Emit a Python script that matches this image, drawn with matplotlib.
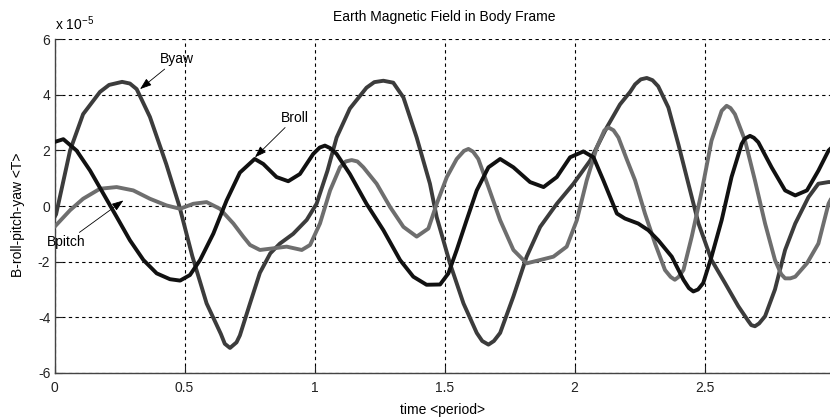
import matplotlib
matplotlib.use("Agg")
import matplotlib.pyplot as plt

plt.rcParams['font.family'] = ['Liberation Sans', 'DejaVu Sans']

# values in units of 1e-5 T
t_yaw = [0.0, 0.006, 0.06, 0.11, 0.175, 0.21, 0.26, 0.29, 0.316, 0.367, 0.43, 0.48, 0.53, 0.585,
         0.64, 0.655, 0.675, 0.70,
         0.713, 0.752, 0.79, 0.83, 0.867, 0.918, 0.97, 1.008, 1.05, 1.085, 1.136, 1.2, 1.23, 1.265,
         1.303, 1.342, 1.393, 1.444, 1.47, 1.521, 1.573, 1.624, 1.645, 1.669, 1.69, 1.714, 1.765,
         1.816, 1.868, 1.932, 1.996, 2.06, 2.124, 2.175, 2.214, 2.233, 2.255, 2.278, 2.3, 2.322,
         2.361, 2.4, 2.438, 2.477, 2.527, 2.579, 2.63, 2.669, 2.68, 2.694, 2.71, 2.733, 2.771,
         2.81, 2.849, 2.9, 2.938, 2.977, 3.0]
b_yaw = [-0.4, -0.3, 2.0, 3.3, 4.1, 4.35, 4.46, 4.4, 4.2, 3.2, 1.5, 0.0, -1.8, -3.5,
         -4.6, -4.95, -5.1, -4.9,
         -4.65, -3.5, -2.4, -1.7, -1.35, -1.0, -0.5, 0.08, 1.27, 2.46, 3.5, 4.25, 4.45, 4.5,
         4.43, 3.9, 2.46, 0.8, -0.4, -2.06, -3.5, -4.56, -4.85, -4.98, -4.85, -4.56, -3.25,
         -1.82, -0.75, 0.08, 0.8, 1.63, 2.82, 3.65, 4.1, 4.37, 4.55, 4.6, 4.52, 4.3,
         3.54, 2.2, 0.8, -0.63, -1.94, -2.77, -3.6, -4.14, -4.28, -4.32, -4.22, -3.96, -3.0,
         -1.58, -0.63, 0.32, 0.8, 0.86, 0.86]

t_roll = [0.0, 0.034, 0.085, 0.137, 0.188, 0.239, 0.29, 0.342, 0.393, 0.444, 0.483, 0.521, 0.56,
          0.611, 0.662, 0.713, 0.77, 0.803, 0.854, 0.899, 0.944, 0.995, 1.02, 1.04, 1.06, 1.085,
          1.136, 1.2, 1.265, 1.329, 1.38, 1.431, 1.483, 1.515, 1.547, 1.585, 1.624, 1.669, 1.714,
          1.765, 1.829, 1.881, 1.932, 1.983, 2.034, 2.073, 2.111, 2.163, 2.194, 2.245, 2.284,
          2.322, 2.374, 2.419, 2.44, 2.457, 2.475, 2.495, 2.527, 2.566, 2.604, 2.643, 2.655,
          2.675, 2.69, 2.707, 2.758, 2.81, 2.849, 2.894, 2.938, 2.977, 3.0]
b_roll = [2.3, 2.4, 1.99, 1.27, 0.44, -0.39, -1.23, -1.94, -2.42, -2.63, -2.68, -2.48, -1.94,
          -0.99, 0.2, 1.2, 1.69, 1.51, 1.04, 0.89, 1.15, 1.87, 2.1, 2.17, 2.08, 1.87,
          1.15, 0.08, -0.87, -1.94, -2.54, -2.83, -2.82, -2.42, -1.58, -0.51, 0.56, 1.39, 1.69,
          1.39, 0.86, 0.68, 1.04, 1.75, 1.96, 1.75, 0.92, -0.27, -0.45, -0.63, -0.87,
          -1.23, -1.82, -2.65, -2.95, -3.07, -3.0, -2.77, -1.82, -0.51, 1.04, 2.23, 2.42,
          2.52, 2.45, 2.29, 1.39, 0.56, 0.38, 0.56, 1.27, 1.99, 2.2]

t_pitch = [0.0, 0.06, 0.11, 0.175, 0.239, 0.303, 0.367, 0.431, 0.483, 0.534, 0.585, 0.636, 0.688,
           0.726, 0.752, 0.79, 0.842, 0.893, 0.951, 0.983, 1.021, 1.06, 1.098, 1.12, 1.143, 1.165,
           1.188, 1.239, 1.291, 1.342, 1.393, 1.438, 1.47, 1.509, 1.547, 1.575, 1.592, 1.61, 1.63,
           1.669, 1.714, 1.765, 1.816, 1.868, 1.919, 1.97, 2.009, 2.047, 2.086, 2.115, 2.131,
           2.15, 2.169, 2.2, 2.233, 2.271, 2.31, 2.348, 2.37, 2.386, 2.40, 2.419, 2.451, 2.49,
           2.527, 2.566, 2.585, 2.60, 2.617, 2.656, 2.694, 2.733, 2.771, 2.795, 2.81, 2.83,
           2.849, 2.894, 2.938, 2.977, 3.0]
b_pitch = [-0.75, -0.15, 0.26, 0.62, 0.68, 0.56, 0.26, 0.02, -0.1, 0.08, 0.14, -0.1, -0.63,
           -1.1, -1.4, -1.58, -1.52, -1.46, -1.58, -1.4, -0.63, 0.56, 1.39, 1.6, 1.65, 1.6,
           1.39, 0.8, -0.04, -0.75, -1.1, -0.81, 0.08, 1.04, 1.69, 1.98, 2.05, 1.95, 1.69,
           0.68, -0.51, -1.58, -2.06, -1.94, -1.82, -1.46, -0.51, 0.92, 2.11, 2.72, 2.82,
           2.72, 2.46, 1.7, 0.92, -0.27, -1.35, -2.3, -2.55, -2.65, -2.55, -2.3, -1.1, 0.56,
           2.35, 3.42, 3.6, 3.52, 3.3, 2.35, 0.92, -0.63, -1.94, -2.45, -2.6, -2.6,
           -2.54, -2.06, -1.35, 0.08, 0.5]

x_ticks = [0, 0.5, 1, 1.5, 2, 2.5, 3]
x_ticklabels = ['0', '0.5', '1', '1.5', '2', '2.5', '3']
y_ticks = [-6, -4, -2, 0, 2, 4, 6]
y_ticklabels = ['-6', '-4', '-2', '0', '2', '4', '6']

W, H = 830, 419
fig = plt.figure(figsize=(W / 100, H / 100), dpi=100)
ax = fig.add_axes([54.5 / W, (H - 373) / H, 780 / W, 334 / H])

lw = 2.8
ax.plot(t_yaw, b_yaw, color='#3c3c3c', lw=lw, solid_joinstyle='round', solid_capstyle='round', zorder=3)
ax.plot(t_pitch, b_pitch, color='#6e6e6e', lw=lw, solid_joinstyle='round', solid_capstyle='round', zorder=3)
ax.plot(t_roll, b_roll, color='#111111', lw=lw, solid_joinstyle='round', solid_capstyle='round', zorder=4)

ax.set_xlim(0, 3)
ax.set_ylim(-6, 6)
ax.set_xticks(x_ticks)
ax.set_xticklabels(x_ticklabels)
ax.set_yticks(y_ticks)
ax.set_yticklabels(y_ticklabels)
ax.grid(True, color='black', linestyle=(0, (3, 3)), linewidth=0.8)
ax.set_axisbelow(True)
for s in ['top', 'right']:
    ax.spines[s].set_visible(False)
for s in ['left', 'bottom']:
    ax.spines[s].set_color('#444444')
    ax.spines[s].set_linewidth(1.0)
ax.tick_params(direction='in', length=5, width=0.8, colors='#222222', labelsize=10)
ax.tick_params(axis='x', pad=6)
ax.tick_params(axis='y', pad=3)

fs = 10
fig.text(444 / W, 1 - 17 / H, 'Earth Magnetic Field in Body Frame', ha='center', va='center', fontsize=fs)
fig.text(442 / W, 1 - 410 / H, 'time <period>', ha='center', va='center', fontsize=fs)
fig.text(18 / W, 1 - 215 / H, 'B-roll-pitch-yaw <T>', ha='center', va='center', rotation=90, fontsize=fs)
fig.text(55 / W, 1 - 24 / H, r'x 10$^{\mathregular{-5}}$', ha='left', va='center', fontsize=fs)

arrow = dict(arrowstyle='-|>,head_length=0.7,head_width=0.25', color='black', lw=0.6, shrinkA=0, shrinkB=0)
ax.annotate('Byaw', xy=(0.329, 4.2), xytext=(0.47, 5.27), ha='center', va='center', fontsize=fs,
            arrowprops=arrow, annotation_clip=False)
ax.annotate('Broll', xy=(0.771, 1.75), xytext=(0.925, 3.17), ha='center', va='center', fontsize=fs,
            arrowprops=arrow, annotation_clip=False)
ax.annotate('Bpitch', xy=(0.265, 0.2), xytext=(0.044, -1.3), ha='center', va='center', fontsize=fs,
            arrowprops=arrow, annotation_clip=False)

fig.savefig('out.png', dpi=100)
